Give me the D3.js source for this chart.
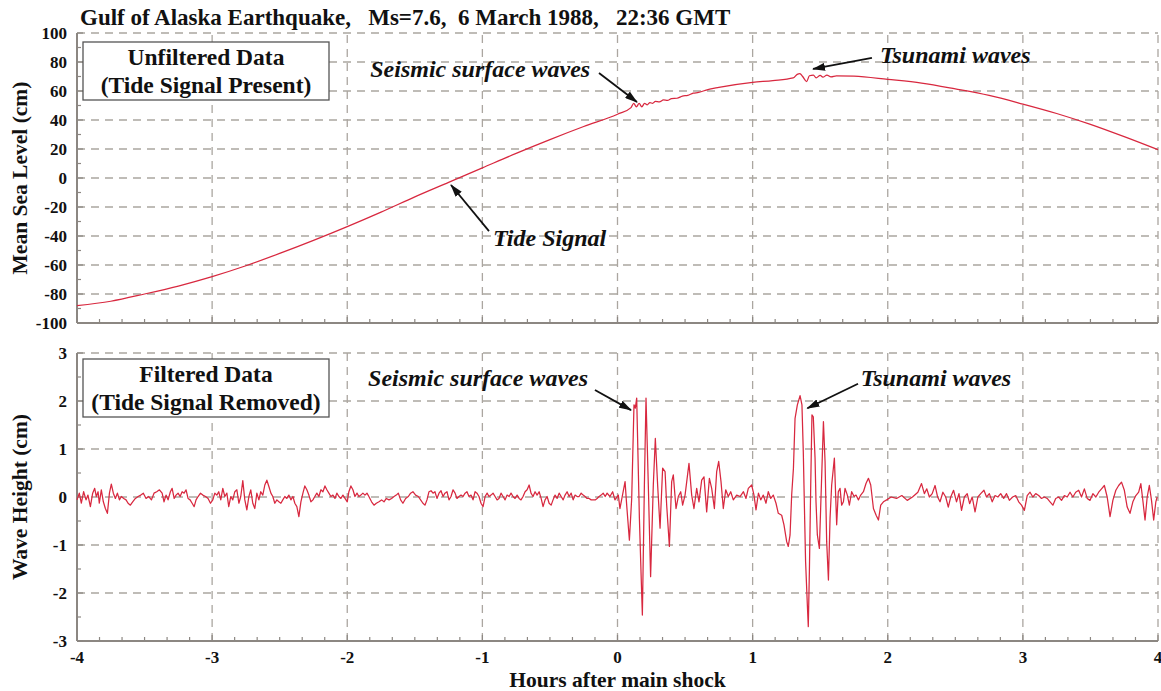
<!DOCTYPE html>
<html>
<head>
<meta charset="utf-8">
<script src="https://cdn.jsdelivr.net/npm/d3@7"></script>
<style>
  body { margin: 0; background: #fff; }
  svg { display: block; font-family: "Liberation Serif", "Times New Roman", serif; }
</style>
</head>
<body>
<svg id="chart" width="1161" height="691"></svg>
<script>
// ---- data ----
const chartTitle = "Gulf of Alaska Earthquake,   Ms=7.6,  6 March 1988,   22:36 GMT";
const hourTicks = [-4, -3, -2, -1, 0, 1, 2, 3, 4];
const levelTicks = [-100, -80, -60, -40, -20, 0, 20, 40, 60, 80, 100];
const waveTicks = [-3, -2, -1, 0, 1, 2, 3];

// unfiltered record: [hours after shock, sea level cm]
const seaLevel = [
  [-4, -88], [-3.75, -85], [-3.5, -80], [-3.25, -74.5], [-3, -68], [-2.75, -60.5],
  [-2.5, -52], [-2.25, -43], [-2, -33.5], [-1.75, -23.5], [-1.5, -13], [-1.25, -3],
  [-1, 7], [-0.75, 17], [-0.5, 26.5], [-0.25, 35.5], [0, 44], [0.1, 48.5],
  [0.12, 51.5], [0.14, 49], [0.16, 51.5], [0.18, 49], [0.2, 51.5], [0.22, 50.5],
  [0.24, 52], [0.26, 51.5], [0.28, 52.8], [0.31, 52.5], [0.34, 53.8], [0.37, 53.5],
  [0.4, 54.8], [0.44, 55], [0.48, 56.5], [0.52, 57], [0.56, 58.5], [0.6, 59],
  [0.65, 60.5], [0.75, 62.5], [1, 66], [1.15, 67.2], [1.3, 69], [1.33, 71.5],
  [1.35, 72], [1.37, 70], [1.4, 66.5], [1.42, 70.5], [1.45, 71], [1.47, 69],
  [1.5, 70.8], [1.52, 69.5], [1.55, 71], [1.58, 69.8], [1.62, 70.5], [1.75, 70.2],
  [2, 68], [2.25, 65.5], [2.5, 61.5], [2.75, 57], [3, 51], [3.25, 44.5],
  [3.5, 37], [3.75, 28.5], [4, 19.5]
];

// filtered record: [hours after shock, wave height cm]
const waveHeight = [
  [-4.000, -0.06], [-3.983, 0.08], [-3.968, -0.13], [-3.951, 0.11], [-3.933, -0.06], [-3.919, 0.04],
  [-3.901, -0.2], [-3.884, 0.08], [-3.869, 0.18], [-3.857, 0.01], [-3.844, 0.11], [-3.835, -0.13],
  [-3.82, 0.15], [-3.805, -0.1], [-3.79, -0.24], [-3.775, -0.34], [-3.76, 0.08], [-3.746, 0.27],
  [-3.731, 0.08], [-3.716, -0.03], [-3.701, 0.08], [-3.686, -0.06], [-3.672, 0.01], [-3.654, -0.03],
  [-3.637, -0.06], [-3.622, -0.13], [-3.605, -0.17], [-3.588, -0.1], [-3.568, -0.03], [-3.548, 0.01],
  [-3.528, 0.04], [-3.509, 0.08], [-3.489, -0.03], [-3.469, 0.01], [-3.449, -0.06], [-3.43, 0.08],
  [-3.41, 0.11], [-3.39, 0.15], [-3.37, 0.08], [-3.356, -0.1], [-3.341, 0.04], [-3.326, -0.06],
  [-3.309, 0.11], [-3.296, 0.18], [-3.281, -0.03], [-3.267, 0.04], [-3.252, 0.08], [-3.237, 0.01],
  [-3.222, 0.11], [-3.207, 0.08], [-3.193, 0.15], [-3.178, -0.03], [-3.163, -0.06], [-3.148, -0.13],
  [-3.133, -0.2], [-3.119, -0.06], [-3.104, 0.01], [-3.086, 0.08], [-3.069, 0.04], [-3.049, 0.01],
  [-3.03, -0.03], [-3.012, -0.13], [-2.995, -0.06], [-2.98, 0.08], [-2.965, 0.04], [-2.951, 0.11],
  [-2.936, -0.06], [-2.921, 0.18], [-2.906, 0.01], [-2.891, 0.08], [-2.877, -0.2], [-2.862, 0.01],
  [-2.847, -0.06], [-2.832, 0.11], [-2.817, 0.15], [-2.802, -0.13], [-2.788, 0.01], [-2.773, 0.34],
  [-2.758, -0.06], [-2.743, -0.27], [-2.728, 0.01], [-2.714, 0.15], [-2.699, -0.13], [-2.684, -0.24],
  [-2.669, 0.08], [-2.654, -0.06], [-2.64, 0.11], [-2.625, 0.04], [-2.61, 0.25], [-2.595, 0.35],
  [-2.58, 0.22], [-2.565, 0.08], [-2.551, 0.01], [-2.536, -0.13], [-2.521, -0.06], [-2.506, -0.1],
  [-2.491, -0.13], [-2.477, -0.06], [-2.462, 0.01], [-2.447, -0.03], [-2.432, 0.04], [-2.417, -0.06],
  [-2.402, 0.01], [-2.388, -0.13], [-2.373, -0.2], [-2.358, -0.41], [-2.343, -0.1], [-2.328, 0.08],
  [-2.314, 0.23], [-2.299, 0.15], [-2.284, 0.04], [-2.269, -0.1], [-2.254, -0.06], [-2.24, 0.01],
  [-2.225, 0.08], [-2.21, 0.01], [-2.195, 0.15], [-2.18, 0.11], [-2.165, 0.23], [-2.151, 0.15],
  [-2.136, 0.08], [-2.121, 0.01], [-2.106, 0.04], [-2.091, -0.03], [-2.077, 0.08], [-2.062, 0.01],
  [-2.047, -0.03], [-2.032, 0.04], [-2.0, -0.1], [-1.988, 0.11], [-1.973, 0.23], [-1.958, 0.15],
  [-1.943, 0.01], [-1.928, 0.08], [-1.914, 0.01], [-1.899, 0.04], [-1.884, 0.08], [-1.869, 0.04],
  [-1.854, 0.08], [-1.84, 0.01], [-1.82, -0.1], [-1.802, -0.17], [-1.785, -0.13], [-1.765, -0.1],
  [-1.746, -0.06], [-1.728, -0.1], [-1.711, -0.03], [-1.691, -0.06], [-1.672, -0.03], [-1.654, 0.01],
  [-1.637, 0.04], [-1.622, 0.08], [-1.605, -0.06], [-1.588, -0.13], [-1.568, -0.03], [-1.548, 0.01],
  [-1.531, 0.08], [-1.514, 0.11], [-1.494, 0.04], [-1.474, 0.01], [-1.457, -0.06], [-1.44, -0.13],
  [-1.425, -0.17], [-1.41, -0.06], [-1.395, 0.11], [-1.38, 0.13], [-1.365, 0.08], [-1.351, 0.11],
  [-1.336, -0.03], [-1.321, 0.08], [-1.306, 0.13], [-1.291, 0.01], [-1.277, 0.08], [-1.262, 0.11],
  [-1.247, -0.06], [-1.232, 0.01], [-1.217, 0.15], [-1.202, 0.08], [-1.188, -0.03], [-1.173, 0.01],
  [-1.158, 0.04], [-1.143, 0.01], [-1.128, 0.08], [-1.114, 0.11], [-1.099, 0.01], [-1.084, 0.04],
  [-1.069, -0.06], [-1.054, 0.11], [-1.04, 0.08], [-1.025, 0.01], [-1.01, -0.13], [-0.995, -0.2],
  [-0.98, 0.01], [-0.965, 0.08], [-0.951, 0.01], [-0.936, 0.04], [-0.921, 0.08], [-0.906, 0.01],
  [-0.891, -0.06], [-0.877, -0.03], [-0.862, 0.08], [-0.847, 0.01], [-0.832, -0.06], [-0.817, 0.04],
  [-0.802, 0.01], [-0.788, 0.08], [-0.773, 0.01], [-0.758, -0.03], [-0.743, 0.04], [-0.728, -0.03],
  [-0.714, -0.06], [-0.699, 0.01], [-0.684, 0.11], [-0.669, 0.15], [-0.654, 0.25], [-0.64, 0.08],
  [-0.625, 0.01], [-0.61, 0.11], [-0.595, 0.04], [-0.58, 0.11], [-0.565, -0.03], [-0.551, -0.2],
  [-0.536, -0.06], [-0.521, 0.01], [-0.506, -0.13], [-0.491, -0.17], [-0.477, -0.06], [-0.462, 0.04],
  [-0.447, -0.03], [-0.432, 0.08], [-0.417, 0.01], [-0.402, -0.06], [-0.388, 0.04], [-0.373, 0.11],
  [-0.358, 0.01], [-0.343, 0.08], [-0.328, -0.06], [-0.314, 0.04], [-0.299, 0.01], [-0.284, 0.01],
  [-0.269, 0.08], [-0.254, 0.04], [-0.24, 0.01], [-0.225, -0.03], [-0.21, -0.03], [-0.195, -0.06],
  [-0.18, -0.06], [-0.165, -0.06], [-0.151, -0.03], [-0.136, 0.01], [-0.121, 0.04], [-0.106, 0.08],
  [-0.091, 0.01], [-0.077, 0.08], [-0.056, 0.01], [-0.036, 0.11], [-0.019, -0.06], [0.006, 0.04],
  [0.018, -0.24], [0.056, 0.32], [0.068, -0.17], [0.088, -0.9], [0.105, -0.03], [0.122, 1.92],
  [0.132, 1.85], [0.142, 2.06], [0.162, -0.44], [0.174, -1.56], [0.184, -2.46], [0.199, 0.25],
  [0.211, 2.06], [0.228, 0.25], [0.245, -1.66], [0.265, 0.25], [0.28, 1.22], [0.297, 0.25],
  [0.315, -0.65], [0.334, 0.6], [0.352, 0.53], [0.364, -0.17], [0.384, -1.03], [0.401, 0.32],
  [0.413, 0.46], [0.433, -0.24], [0.45, 0.01], [0.468, 0.11], [0.482, -0.17], [0.5, 0.04],
  [0.529, 0.7], [0.549, 0.04], [0.566, -0.24], [0.586, 0.18], [0.603, -0.1], [0.623, 0.35],
  [0.64, 0.42], [0.66, -0.31], [0.68, 0.39], [0.697, 0.18], [0.717, -0.24], [0.734, 0.53],
  [0.749, 0.74], [0.766, 0.32], [0.783, -0.24], [0.801, 0.15], [0.82, 0.01], [0.838, 0.11],
  [0.857, -0.06], [0.882, 0.04], [0.907, 0.01], [0.932, 0.11], [0.951, -0.03], [0.968, 0.18],
  [0.993, 0.25], [1.01, 0.04], [1.025, -0.27], [1.043, 0.08], [1.06, -0.06], [1.079, 0.04],
  [1.099, -0.13], [1.116, 0.11], [1.134, -0.03], [1.153, 0.04], [1.173, -0.13], [1.19, -0.34],
  [1.215, -0.38], [1.232, -0.58], [1.252, -0.93], [1.264, -1.03], [1.277, -0.79], [1.289, 0.04],
  [1.302, 0.6], [1.314, 1.64], [1.331, 1.92], [1.351, 2.11], [1.365, 1.92], [1.375, 0.94],
  [1.385, -0.44], [1.392, -1.35], [1.405, -2.25], [1.412, -2.7], [1.42, -1.56], [1.43, 0.25],
  [1.439, 1.71], [1.449, 1.67], [1.462, 0.81], [1.469, -0.1], [1.479, -0.79], [1.494, -1.07],
  [1.509, 0.25], [1.524, 1.57], [1.536, 0.74], [1.548, -0.93], [1.561, -1.73], [1.573, -0.44],
  [1.585, 0.25], [1.605, 0.81], [1.622, -0.58], [1.634, 0.11], [1.647, 0.18], [1.659, -0.17],
  [1.672, -0.1], [1.684, 0.18], [1.701, 0.04], [1.716, -0.17], [1.733, 0.11], [1.751, 0.01],
  [1.765, 0.04], [1.783, -0.06], [1.8, 0.04], [1.82, 0.11], [1.839, 0.28], [1.857, 0.39],
  [1.874, 0.25], [1.894, -0.24], [1.914, -0.38], [1.931, -0.48], [1.948, -0.17], [1.968, -0.1],
  [1.992, -0.06], [2.025, 0], [2.065, -0.03], [2.104, 0.03], [2.144, -0.07], [2.183, 0],
  [2.223, 0.1], [2.25, 0.28], [2.271, 0.07], [2.289, 0.17], [2.308, 0], [2.329, 0.07],
  [2.35, 0.24], [2.369, 0], [2.387, -0.1], [2.408, 0.1], [2.429, 0], [2.448, -0.21],
  [2.466, 0], [2.487, 0.14], [2.509, -0.1], [2.527, 0.07], [2.546, -0.28], [2.567, 0],
  [2.588, 0.07], [2.606, -0.14], [2.625, 0], [2.646, -0.31], [2.667, 0], [2.688, 0.07],
  [2.712, 0.14], [2.731, 0], [2.752, 0.07], [2.773, -0.1], [2.794, 0.03], [2.815, 0],
  [2.836, 0.07], [2.858, -0.03], [2.879, 0.07], [2.9, -0.07], [2.924, 0], [2.947, 0.03],
  [2.969, -0.1], [2.99, -0.17], [3.011, -0.28], [3.032, 0.03], [3.053, 0.1], [3.074, 0],
  [3.095, 0.07], [3.117, 0.03], [3.138, -0.03], [3.159, 0], [3.18, -0.03], [3.201, -0.1],
  [3.222, -0.17], [3.243, -0.03], [3.265, 0], [3.286, -0.07], [3.307, 0.03], [3.328, 0],
  [3.349, 0.1], [3.37, 0], [3.391, 0.1], [3.413, 0.14], [3.434, 0], [3.455, 0.17],
  [3.476, -0.03], [3.497, -0.07], [3.518, 0.07], [3.54, 0], [3.561, 0.1], [3.582, 0.17],
  [3.603, 0.24], [3.624, 0], [3.645, -0.41], [3.666, -0.07], [3.688, 0.14], [3.709, 0.24],
  [3.73, 0.31], [3.751, 0.14], [3.772, -0.21], [3.793, -0.34], [3.814, -0.1], [3.836, 0.03],
  [3.857, 0.1], [3.873, 0.28], [3.889, -0.1], [3.904, -0.48], [3.92, 0], [3.936, 0.24],
  [3.952, -0.07], [3.968, -0.48], [3.984, -0.1], [3.994, 0]
];

// annotations: [label, text hour, text value, arrow tail hour, tail value, head hour, head value]
const topNotes = [
  ["Seismic surface waves", -1.83, 70, -0.137, 72.4, 0.144, 52.4],
  ["Tsunami waves", 1.943, 79.3, 1.883, 82.8, 1.447, 75.2],
  ["Tide Signal", -0.921, -46.9, -0.951, -36.6, -1.232, -4.8]
];
const bottomNotes = [
  ["Seismic surface waves", -1.846, 2.31, -0.167, 2.23, 0.1, 1.81],
  ["Tsunami waves", 1.8, 2.31, 1.78, 2.36, 1.405, 1.85]
];

// ---- drawing ----
const svg = d3.select("#chart");
const gridColor = "#aba6a0";
const axisColor = "#8c8782";
const lineColor = "#d8283f";

const x = d3.scaleLinear().domain([-4, 4]).range([77, 1158]);
const yTop = d3.scaleLinear().domain([-100, 100]).range([323, 33]);
const yBot = d3.scaleLinear().domain([-3, 3]).range([641, 353]);

const defs = svg.append("defs");
defs.append("marker")
  .attr("id", "arrow")
  .attr("viewBox", "0 0 13 8")
  .attr("refX", 12).attr("refY", 4)
  .attr("markerWidth", 13).attr("markerHeight", 8)
  .attr("markerUnits", "userSpaceOnUse")
  .attr("orient", "auto")
  .append("path").attr("d", "M0,0 L13,4 L0,8 Z").attr("fill", "#111");

function drawPanel(y, ticks, data, notes, boxLines) {
  const g = svg.append("g");
  const [y0, y1] = y.domain();
  const step = ticks[1] - ticks[0];

  // dashed grid
  g.selectAll(".hgrid").data(ticks.filter(t => t > y0)).join("line")
    .attr("x1", x(-4)).attr("x2", x(4))
    .attr("y1", d => y(d)).attr("y2", d => y(d))
    .attr("stroke", gridColor).attr("stroke-width", 1.3).attr("stroke-dasharray", "8,6");
  g.selectAll(".vgrid").data(hourTicks.filter(t => t > -4)).join("line")
    .attr("x1", d => x(d)).attr("x2", d => x(d))
    .attr("y1", y(y0)).attr("y2", y(y1))
    .attr("stroke", gridColor).attr("stroke-width", 1.3).attr("stroke-dasharray", "8,6");

  // axis lines + inward ticks
  g.append("line").attr("x1", x(-4)).attr("x2", x(4)).attr("y1", y(y0)).attr("y2", y(y0))
    .attr("stroke", axisColor).attr("stroke-width", 2);
  g.append("line").attr("x1", x(-4)).attr("x2", x(-4)).attr("y1", y(y0)).attr("y2", y(y1))
    .attr("stroke", axisColor).attr("stroke-width", 2);

  const xMinor = d3.range(0, 49).map(i => -4 + i / 6);
  g.selectAll(".xt").data(xMinor).join("line")
    .attr("x1", d => x(d)).attr("x2", d => x(d))
    .attr("y1", y(y0)).attr("y2", (d, i) => y(y0) - (i % 6 === 0 ? 6 : 4))
    .attr("stroke", axisColor).attr("stroke-width", 1.2);
  const yMinor = d3.range(0, (ticks.length - 1) * 2 + 1).map(i => y0 + i * step / 2);
  g.selectAll(".yt").data(yMinor).join("line")
    .attr("x1", x(-4)).attr("x2", (d, i) => x(-4) + (i % 2 === 0 ? 6 : 4))
    .attr("y1", d => y(d)).attr("y2", d => y(d))
    .attr("stroke", axisColor).attr("stroke-width", 1.2);

  // y tick labels
  g.selectAll(".yl").data(ticks).join("text")
    .attr("x", 67).attr("y", d => y(d)).attr("dy", "0.36em")
    .attr("text-anchor", "end").attr("font-size", 17).attr("font-weight", "bold")
    .attr("fill", "#111").text(d => d);

  // data line
  g.append("path").datum(data)
    .attr("fill", "none").attr("stroke", lineColor).attr("stroke-width", 1.25)
    .attr("stroke-linejoin", "round")
    .attr("d", d3.line().x(d => x(d[0])).y(d => y(d[1])).curve(data === seaLevel ? d3.curveMonotoneX : d3.curveLinear));

  // label box
  const bx = x(-4) + 6, by = y(y1) + (y === yTop ? 9 : 6);
  g.append("rect").attr("x", bx).attr("y", by).attr("width", 246).attr("height", 58)
    .attr("fill", "#fff").attr("stroke", "#555").attr("stroke-width", 1.3);
  boxLines.forEach((t, i) => {
    g.append("text").attr("x", bx + 123).attr("y", by + 23 + i * 28)
      .attr("text-anchor", "middle").attr("font-size", 23.5).attr("font-weight", "bold")
      .attr("fill", "#111").text(t);
  });

  // annotations
  notes.forEach(n => {
    g.append("text").attr("x", x(n[1])).attr("y", y(n[2]))
      .attr("font-size", 24).attr("font-weight", "bold").attr("font-style", "italic")
      .attr("fill", "#111").text(n[0]);
    g.append("line").attr("x1", x(n[3])).attr("y1", y(n[4])).attr("x2", x(n[5])).attr("y2", y(n[6]))
      .attr("stroke", "#111").attr("stroke-width", 1.8).attr("marker-end", "url(#arrow)");
  });
}

drawPanel(yTop, levelTicks, seaLevel, topNotes, ["Unfiltered Data", "(Tide Signal Present)"]);
drawPanel(yBot, waveTicks, waveHeight, bottomNotes, ["Filtered Data", "(Tide Signal Removed)"]);

// x tick labels (bottom panel only)
svg.append("g").selectAll("text").data(hourTicks).join("text")
  .attr("x", d => x(d)).attr("y", 663)
  .attr("text-anchor", "middle").attr("font-size", 17).attr("font-weight", "bold")
  .attr("fill", "#111").text(d => d);

// titles
svg.append("text").attr("x", 80).attr("y", 25)
  .attr("font-size", 23).attr("font-weight", "bold").attr("fill", "#111")
  .style("white-space", "pre").attr("xml:space", "preserve").text(chartTitle);

svg.append("text").attr("x", (x(-4) + x(4)) / 2).attr("y", 687)
  .attr("text-anchor", "middle").attr("font-size", 21.5).attr("font-weight", "bold")
  .attr("fill", "#111").text("Hours after main shock");

svg.append("text")
  .attr("transform", `translate(27,${(yTop(-100) + yTop(100)) / 2}) rotate(-90)`)
  .attr("text-anchor", "middle").attr("font-size", 21.5).attr("font-weight", "bold")
  .attr("fill", "#111").text("Mean Sea Level (cm)");
svg.append("text")
  .attr("transform", `translate(27,${(yBot(-3) + yBot(3)) / 2}) rotate(-90)`)
  .attr("text-anchor", "middle").attr("font-size", 21.5).attr("font-weight", "bold")
  .attr("fill", "#111").text("Wave Height (cm)");
</script>
</body>
</html>
